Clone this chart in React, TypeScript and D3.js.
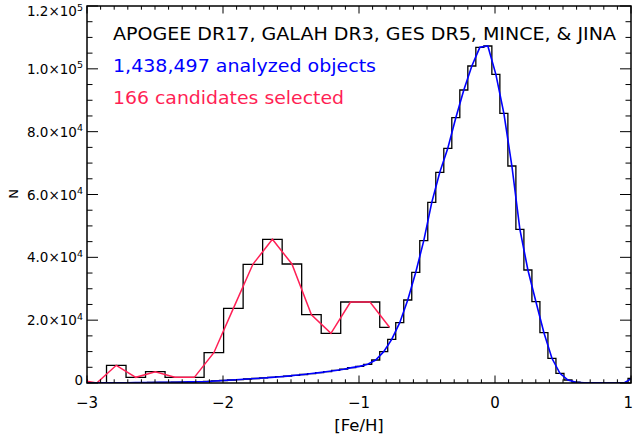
import React, { useEffect, useRef } from 'react'
import * as d3 from 'd3'

// histogram of all analyzed objects, bin width ~0.059 dex
const allBinStart = -3.027
const allBinWidth = 0.0589
const allCounts = [
  50, 60, 70, 80, 90, 100, 120, 140, 160, 190,
  220, 260, 300, 350, 410, 480, 650, 800, 950, 1100,
  1270, 1430, 1600, 1800, 2000, 2200, 2450, 2700, 3000, 3300,
  3650, 4000, 4400, 4900, 5300, 5950, 7320, 9970, 13900, 19200,
  26420, 35230, 45300, 57500, 67060, 74700, 84450, 93260, 100900, 106850,
  107270, 98250, 85840, 69070, 48920, 35970, 25880, 16010, 7860, 3090,
  950, 250, 100, 50, 30, 20, 20, 40, 1500
]

// histogram of selected candidates, bin width ~0.1435 dex
const candBinStart = -3.1435
const candBinWidth = 0.1435
const candCounts = [
  1100, 0, 5630, 1800, 3600, 1800, 1800, 9650, 23770, 37780,
  45740, 37880, 21740, 15820, 25780, 25780, 17730
]

const xTickLabels = ['\u22123', '\u22122', '\u22121', '0', '1']
// [mantissa, exponent]
const yTickLabels = [
  ['0', ''], ['2.0\u00d710', '4'], ['4.0\u00d710', '4'], ['6.0\u00d710', '4'],
  ['8.0\u00d710', '4'], ['1.0\u00d710', '5'], ['1.2\u00d710', '5']
]
const notes = [
  { text: 'APOGEE DR17, GALAH DR3, GES DR5, MINCE, & JINA', color: '#000000', len: 503 },
  { text: '1,438,497 analyzed objects', color: '#0000ff', len: 263 },
  { text: '166 candidates selected', color: '#ff1f55', len: 231 }
]

const W = 633, H = 436
const left = 87, right = 631, top = 6, bottom = 383
const font = 'DejaVu Sans, sans-serif'

export default function App() {
  const ref = useRef<SVGSVGElement>(null)

  useEffect(() => {
    const svg = d3.select(ref.current)
    svg.selectAll('*').remove()

    const x = d3.scaleLinear().domain([-3, 1]).range([left, right])
    const y = d3.scaleLinear().domain([0, 120000]).range([bottom, top])

    const allPts = allCounts.map((v, i) => ({ c: allBinStart + (i + 0.5) * allBinWidth, v }))
    const candPts = candCounts.map((v, i) => ({ c: candBinStart + (i + 0.5) * candBinWidth, v }))

    // IDL psym=10 style histogram
    const stepPath = (pts) => {
      let d = 'M' + x(pts[0].c) + ',' + y(pts[0].v)
      for (let i = 1; i < pts.length; i++) {
        d += 'H' + x((pts[i - 1].c + pts[i].c) / 2) + 'V' + y(pts[i].v)
      }
      d += 'H' + x(pts[pts.length - 1].c)
      return d
    }
    const line = d3.line<any>().x(d => x(d.c)).y(d => y(d.v))

    svg.append('defs').append('clipPath').attr('id', 'plotclip')
      .append('rect')
      .attr('x', left).attr('y', top)
      .attr('width', right - left).attr('height', bottom - top)

    const g = svg.append('g').attr('clip-path', 'url(#plotclip)')
    g.append('path').attr('d', stepPath(allPts))
      .attr('fill', 'none').attr('stroke', '#000').attr('stroke-width', 1.3)
    g.append('path').attr('d', stepPath(candPts))
      .attr('fill', 'none').attr('stroke', '#000').attr('stroke-width', 1.3)
    g.append('path').attr('d', line(candPts))
      .attr('fill', 'none').attr('stroke', '#ff1f55').attr('stroke-width', 1.5)
    g.append('path').attr('d', line(allPts))
      .attr('fill', 'none').attr('stroke', '#0000ff').attr('stroke-width', 1.6)

    // frame
    svg.append('rect')
      .attr('x', left).attr('y', top)
      .attr('width', right - left).attr('height', bottom - top)
      .attr('fill', 'none').attr('stroke', '#000').attr('stroke-width', 1.5)

    // x ticks, bottom and top
    const xMajor = x.ticks(4)
    const xMinor = x.ticks(40)
    xMinor.forEach(t => {
      const major = xMajor.some(m => Math.abs(m - t) < 1e-6)
      const len = major ? 7.5 : 3.7
      svg.append('line').attr('x1', x(t)).attr('x2', x(t))
        .attr('y1', bottom).attr('y2', bottom - len).attr('stroke', '#000')
      svg.append('line').attr('x1', x(t)).attr('x2', x(t))
        .attr('y1', top).attr('y2', top + len).attr('stroke', '#000')
    })
    xMajor.forEach((t, i) => {
      const last = i === xMajor.length - 1
      svg.append('text').attr('x', last ? 633 : x(t)).attr('y', 408)
        .attr('text-anchor', last ? 'end' : 'middle')
        .attr('font-family', font).attr('font-size', 15)
        .text(xTickLabels[i])
    })
    svg.append('text').attr('x', (left + right) / 2).attr('y', 431)
      .attr('text-anchor', 'middle')
      .attr('font-family', font).attr('font-size', 16.5)
      .text('[Fe/H]')

    // y ticks, left and right
    const yMajor = y.ticks(6)
    const yMinor = y.ticks(24)
    yMinor.forEach(t => {
      const major = yMajor.some(m => Math.abs(m - t) < 1e-6)
      const len = major ? 11 : 5.5
      svg.append('line').attr('x1', left).attr('x2', left + len)
        .attr('y1', y(t)).attr('y2', y(t)).attr('stroke', '#000')
      svg.append('line').attr('x1', right).attr('x2', right - len)
        .attr('y1', y(t)).attr('y2', y(t)).attr('stroke', '#000')
    })
    yMajor.forEach((t, i) => {
      // end labels are nudged inside, as in the original
      let shift = 0
      if (i === 0) shift = -3
      if (i === yMajor.length - 1) shift = 5
      const txt = svg.append('text').attr('x', 83).attr('y', y(t) + 5 + shift)
        .attr('text-anchor', 'end')
        .attr('font-family', font).attr('font-size', 13.5)
      txt.append('tspan').text(yTickLabels[i][0])
      if (yTickLabels[i][1]) {
        txt.append('tspan').attr('dy', -5.5).attr('font-size', 9.5).text(yTickLabels[i][1])
      }
    })
    svg.append('text')
      .attr('transform', 'translate(18,194) rotate(-90)')
      .attr('text-anchor', 'middle')
      .attr('font-family', font).attr('font-size', 13)
      .text('N')

    // annotations
    notes.forEach((n, i) => {
      svg.append('text').attr('x', 113).attr('y', 39.5 + i * 32)
        .attr('font-family', font).attr('font-size', 18.5)
        .attr('fill', n.color)
        .attr('textLength', n.len).attr('lengthAdjust', 'spacingAndGlyphs')
        .text(n.text)
    })
  }, [])

  return (
    <svg ref={ref} width={W} height={H}
      style={{ position: 'absolute', left: 0, top: 0, background: '#fff' }} />
  )
}
